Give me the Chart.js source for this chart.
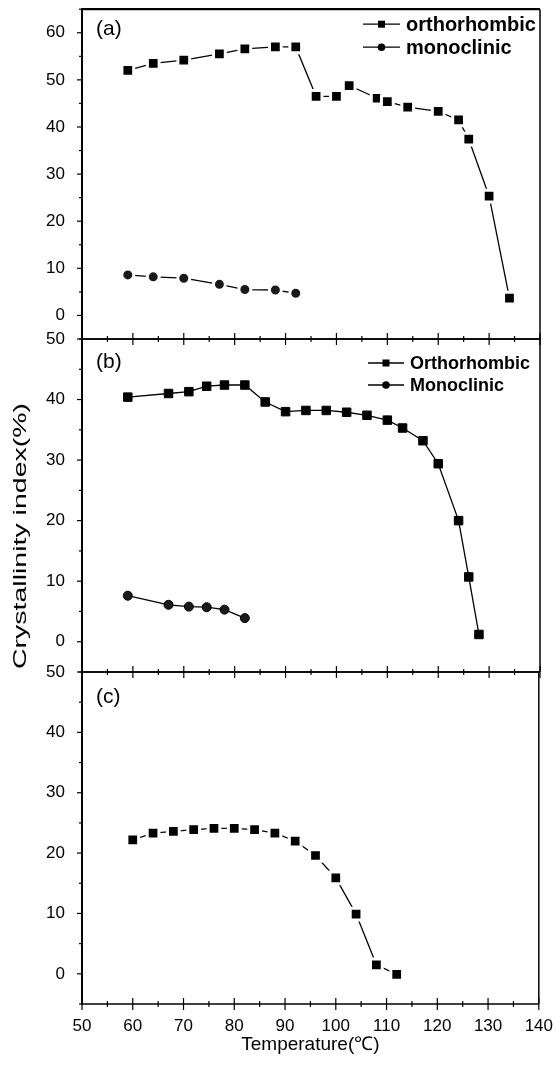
<!DOCTYPE html>
<html>
<head>
<meta charset="utf-8">
<script src="https://cdn.jsdelivr.net/npm/chart.js@4/dist/chart.umd.min.js"></script>
<style>
  html, body { margin: 0; padding: 0; background: #fff; }
  #wrap { position: relative; width: 557px; height: 1065px; overflow: hidden; }
  #wrap canvas { position: absolute; left: 0; top: 0; }
  #wrap #panelA { top: -10px; }
  #ytitle {
    position: absolute; left: 20px; top: 536px;
    font: 19px "Liberation Sans", Arial, sans-serif; color: #000;
    white-space: nowrap;
    transform: translate(-50%, -50%) rotate(-90deg) scaleX(1.5);
  }
</style>
</head>
<body>
<div id="wrap">
  <canvas id="panelA" width="557" height="1065"></canvas>
  <canvas id="panelB" width="557" height="1065"></canvas>
  <canvas id="panelC" width="557" height="1065"></canvas>
  <div id="ytitle">Crystallinity index(%)</div>
</div>
<script>
// panel (a)
const tempA_ortho = [59, 64, 70, 77, 82, 88, 92, 96, 100, 102.5, 108, 110, 114, 120, 124, 126, 130, 134];
const ciA_ortho = [52.0, 53.5, 54.2, 55.5, 56.6, 57.0, 57.0, 46.5, 46.5, 48.8, 46.1, 45.4, 44.2, 43.3, 41.5, 37.4, 25.3, 3.7];
const tempA_mono = [59, 64, 70, 77, 82, 88, 92];
const ciA_mono = [8.6, 8.2, 7.9, 6.6, 5.5, 5.4, 4.7];

// panel (b)
const tempB_ortho = [59, 67, 71, 74.5, 78, 82, 86, 90, 94, 98, 102, 106, 110, 113, 117, 120, 124, 126, 128];
const ciB_ortho = [40.4, 41.0, 41.3, 42.2, 42.4, 42.4, 39.6, 38.0, 38.2, 38.2, 37.9, 37.4, 36.6, 35.3, 33.2, 29.4, 20.0, 10.7, 1.2];
const tempB_mono = [59, 67, 71, 74.5, 78, 82];
const ciB_mono = [7.6, 6.1, 5.8, 5.7, 5.3, 3.9];

// panel (c)
const tempC = [60, 64, 68, 72, 76, 80, 84, 88, 92, 96, 100, 104, 108, 112];
const ciC = [22.2, 23.3, 23.6, 23.9, 24.1, 24.1, 23.9, 23.3, 22.0, 19.6, 15.9, 9.9, 1.5, -0.1];

const xRange = [50, 140];
const xTickStep = 5;
const yTickStep = 5;

const FONT = '"Liberation Sans", Arial, sans-serif';

function toPoints(xs, ys) {
  return xs.map((x, i) => ({ x: x, y: ys[i] }));
}

// frame, ticks, panel tag and legend drawn on top of the plot
const panelDecor = {
  id: "panelDecor",
  afterDraw(chart, args, opts) {
    const { ctx, chartArea: a, scales } = chart;
    const x = scales.x, y = scales.y;
    const line = (x1, y1, x2, y2) => {
      ctx.beginPath();
      ctx.moveTo(x1, y1);
      ctx.lineTo(x2, y2);
      ctx.stroke();
    };
    ctx.save();
    ctx.strokeStyle = "#000";
    ctx.fillStyle = "#000";

    ctx.lineWidth = 1.5;
    line(a.right, a.top, a.right, a.bottom);
    line(a.left, a.bottom, a.right, a.bottom);
    ctx.lineWidth = opts.topWidth || 1.5;
    line(a.left, a.top, a.right, a.top);
    ctx.lineWidth = 2;
    line(a.left, a.top - 1, a.left, a.bottom + 1);

    // y ticks, outward
    ctx.lineWidth = 1.2;
    for (let v = y.min; v <= y.max; v += yTickStep) {
      const py = y.getPixelForValue(v);
      const len = v % 10 === 0 ? 5 : 3;
      line(a.left - len, py, a.left, py);
    }
    // x ticks, crossing the bottom edge
    for (let v = x.min; v <= x.max; v += xTickStep) {
      const px = x.getPixelForValue(v);
      const len = v % 10 === 0 ? 6 : 3;
      line(px, a.bottom - len, px, a.bottom + len);
    }

    // panel tag
    ctx.font = "21px " + FONT;
    ctx.textBaseline = "middle";
    ctx.textAlign = "left";
    ctx.fillText(opts.tag, a.left + 14, a.top + opts.tagDy);

    // legend
    const lg = opts.legend;
    if (lg) {
      ctx.font = "bold " + lg.size + "px " + FONT;
      chart.data.datasets.forEach((ds, i) => {
        const ly = a.top + lg.dy + i * lg.gap;
        ctx.lineWidth = 1.3;
        line(lg.x0, ly, lg.x1, ly);
        const mx = (lg.x0 + lg.x1) / 2;
        ctx.beginPath();
        if (ds.pointStyle === "rect") {
          ctx.rect(mx - 3.5, ly - 3.5, 7, 7);
        } else {
          ctx.arc(mx, ly, 3.8, 0, Math.PI * 2);
        }
        ctx.fill();
        ctx.fillText(ds.label, lg.x1 + 6, ly + 1);
      });
    }
    ctx.restore();
  },
};

function seriesStyle(style, gap) {
  const isRect = style === "rect";
  return {
    pointStyle: style,
    borderColor: "#000",
    backgroundColor: "#000",
    borderWidth: 1.3,
    pointBackgroundColor: isRect ? "#000" : "#1a1a1a",
    pointBorderColor: gap ? "#fff" : "#000",
    pointBorderWidth: gap ? 3 : 1,
    pointRadius: isRect ? (gap ? 8.3 : 6) : (gap ? 6 : 4.5),
    pointHoverRadius: isRect ? 8 : 5,
    showLine: true,
    fill: false,
  };
}

function makePanel(id, datasets, opt) {
  return new Chart(document.getElementById(id), {
    type: "scatter",
    data: { datasets: datasets },
    options: {
      responsive: false,
      animation: false,
      layout: { padding: { top: opt.top, bottom: opt.bottom, left: 0, right: 17 } },
      scales: {
        x: {
          type: "linear",
          min: xRange[0],
          max: xRange[1],
          display: opt.showX,
          grid: { display: false },
          border: { display: false },
          afterFit: opt.showX ? (scale) => { scale.height = 61; } : undefined,
          ticks: {
            stepSize: 10,
            autoSkip: false,
            maxRotation: 0,
            padding: 4,
            color: "#000",
            font: { family: FONT, size: 17 },
            callback: (v) => v,
          },
          title: {
            display: opt.showX,
            text: "Temperature(℃)",
            color: "#000",
            font: { family: FONT, size: 19 },
            padding: { top: 0, bottom: 9 },
          },
        },
        y: {
          type: "linear",
          min: opt.yMin,
          max: opt.yMax,
          grid: { display: false },
          border: { display: false },
          afterFit(scale) { scale.width = 82; },
          ticks: {
            stepSize: yTickStep,
            autoSkip: false,
            padding: 9,
            color: "#000",
            font: { family: FONT, size: 17 },
            callback: (v) => (v % 10 === 0 ? v : ""),
          },
        },
      },
      plugins: {
        legend: { display: false },
        tooltip: { enabled: false },
        panelDecor: opt.decor,
      },
    },
    plugins: [panelDecor],
  });
}

// canvas A sits 10px higher, so its plot box starts near page y = 7
makePanel("panelA", [
  Object.assign({ label: "orthorhombic", data: toPoints(tempA_ortho, ciA_ortho) }, seriesStyle("rect", true)),
  Object.assign({ label: "monoclinic", data: toPoints(tempA_mono, ciA_mono) }, seriesStyle("circle", true)),
], {
  top: 17, bottom: 1065 - 349, yMin: -5, yMax: 65, showX: false,
  decor: { tag: "(a)", tagDy: 20, topWidth: 2.2,
    legend: { x0: 363, x1: 400, dy: 15, gap: 23, size: 20 } },
});

makePanel("panelB", [
  Object.assign({ label: "Orthorhombic", data: toPoints(tempB_ortho, ciB_ortho) }, seriesStyle("rect", false)),
  Object.assign({ label: "Monoclinic", data: toPoints(tempB_mono, ciB_mono) }, seriesStyle("circle", false)),
], {
  top: 339, bottom: 1065 - 672, yMin: -5, yMax: 50, showX: false,
  decor: { tag: "(b)", tagDy: 23,
    legend: { x0: 368, x1: 404, dy: 24, gap: 22, size: 18 } },
});

makePanel("panelC", [
  Object.assign({ label: "Orthorhombic", data: toPoints(tempC, ciC) }, seriesStyle("rect", true)),
], {
  top: 672, bottom: 0, yMin: -5, yMax: 50, showX: true,
  decor: { tag: "(c)", tagDy: 25 },
});
</script>
</body>
</html>
